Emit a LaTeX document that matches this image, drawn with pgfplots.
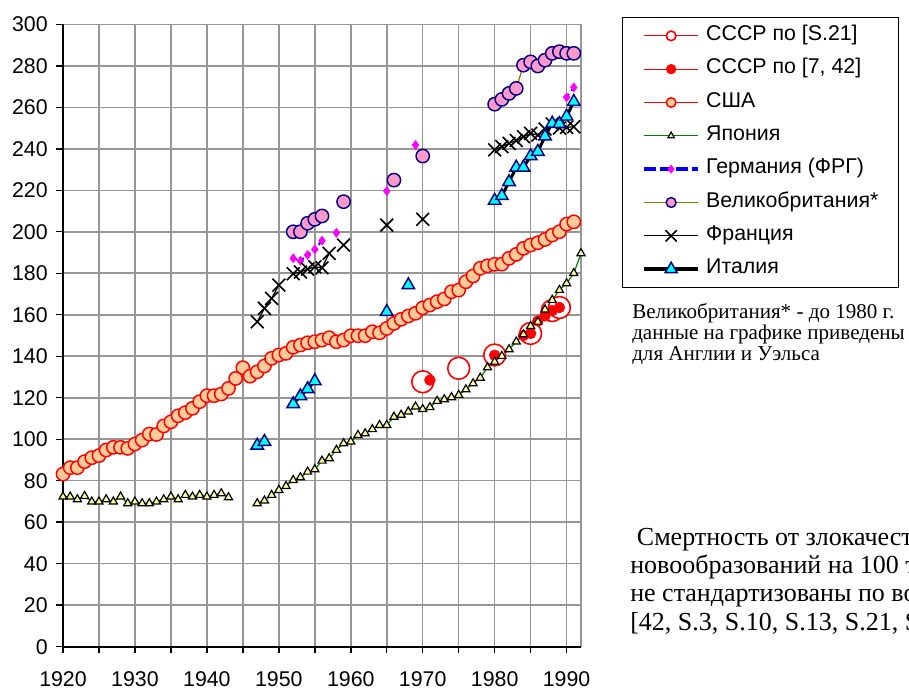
\documentclass[border=0pt]{standalone}
\usepackage{fontspec}
\setmainfont{Liberation Sans}
\newfontfamily\serifcyr{Liberation Serif}
\usepackage{pgfplots}
\pgfplotsset{compat=1.18}
\definecolor{gridgray}{RGB}{150,150,150}
\definecolor{usapeach}{RGB}{255,204,153}
\definecolor{japyellow}{RGB}{255,255,153}
\definecolor{japgreen}{RGB}{0,128,0}
\definecolor{ukpink}{RGB}{255,153,204}
\definecolor{ukolive}{RGB}{128,128,0}
\definecolor{navyb}{RGB}{0,0,128}
\definecolor{itcyan}{RGB}{0,255,255}
\definecolor{gemag}{RGB}{255,0,255}
\begin{document}
\begin{tikzpicture}
\begin{axis}[
  at={(47.25pt,32.475pt)}, anchor=south west,
  scale only axis, width=388.5pt, height=466.8pt,
  xmin=1920, xmax=1992, ymin=0, ymax=300,
  xtick={1920,1925,...,1990},
  xticklabels={1920,,1930,,1940,,1950,,1960,,1970,,1980,,1990},
  ytick={0,20,...,300},
  grid=major, major grid style={draw=gridgray, line width=1.15pt},
  axis line style={draw=gridgray, line width=1.15pt},
  tick align=outside, xtick pos=bottom, ytick pos=left,
  major tick length=5pt,
  tick style={black, line width=1.1pt},
  ticklabel style={font=\fontsize{16}{19}\selectfont},
  xticklabel style={yshift=-10pt},
  yticklabel style={xshift=-3pt},
  /pgf/number format/assume math mode=true,
  clip=false,
  unbounded coords=jump,
  legend cell align=left,
  legend style={at={(1.0792,1.0122)}, anchor=north west, draw=black, line width=1.1pt, fill=white,
    font=\fontsize{16}{19}\selectfont, inner xsep=15pt, inner ysep=6.8pt, row sep=11pt, column sep=5pt,
    nodes={inner sep=0pt, text height=10.5pt, text depth=3.5pt}},
  legend image code/.code={\draw[mark repeat=2,mark phase=2,#1] plot coordinates {(0pt,0pt) (20pt,0pt) (40pt,0pt)};},
]
\draw[black, line width=1.5pt] (rel axis cs:0,1) -- (rel axis cs:0,0) -- (rel axis cs:1,0);

% USSR [S.21]
\addplot[color=red, line width=0.9pt, mark=*, mark size=8.2pt,
  mark options={fill=white, draw=red, line width=1.2pt},
  legend image post style={mark size=3.6pt}]
  coordinates {(1970,127.7)(1971,nan)(1975,134.2)(1976,nan)(1980,140.6)(1981,nan)(1985,151)(1986,nan)(1988,162)(1989,163.5)};
\addlegendentry{СССР по [S.21]}
% USSR [7,42]
\addplot[color=red, line width=0.9pt, mark=*, mark size=4pt,
  mark options={fill=red, draw=red, line width=0.5pt},
  legend image post style={mark size=3.6pt}]
  coordinates {(1971,128.5)(1972,nan)(1980,140.5)(1981,nan)(1984,150)(1985,151)(1986,157)(1987,159.5)(1988,162)(1989,163.5)};
\addlegendentry{СССР по [7, 42]}
% USA
\addplot[color=red, line width=0.9pt, mark=*, mark size=5pt,
  mark options={fill=usapeach, draw=red, line width=1.1pt},
  legend image post style={mark size=3.6pt}]
  coordinates {
(1920,83.2)(1921,86.3)(1922,86.3)(1923,89.2)(1924,91.1)(1925,92.1)(1926,94.8)(1927,96.1)(1928,96.1)(1929,95.6)
(1930,97.7)(1931,99.6)(1932,102.5)(1933,102.3)(1934,106.4)(1935,108.4)(1936,111.3)(1937,112.8)(1938,114.9)(1939,118.1)
(1940,121.0)(1941,121.0)(1942,121.8)(1943,124.5)(1944,129.3)(1945,134.5)(1946,130.4)(1947,132.5)(1948,135.3)(1949,139.0)
(1950,140.6)(1951,141.4)(1952,144.3)(1953,145.4)(1954,146.5)(1955,147.0)(1956,147.8)(1957,148.9)(1958,147.0)(1959,147.8)
(1960,149.9)(1961,149.9)(1962,149.9)(1963,151.8)(1964,151.3)(1965,153.4)(1966,155.8)(1967,157.8)(1968,159.4)(1969,160.7)
(1970,163.3)(1971,164.7)(1972,166.3)(1973,167.6)(1974,171.1)(1975,171.9)(1976,175.9)(1977,178.7)(1978,182.4)(1979,183.6)
(1980,184.3)(1981,184.4)(1982,187.2)(1983,189.1)(1984,192.0)(1985,193.6)(1986,194.7)(1987,196.3)(1988,198.4)(1989,200.0)
(1990,203.7)(1991,204.8)};
\addlegendentry{США}
% Japan
\addplot[color=japgreen, line width=0.9pt, mark=triangle*, mark size=3.5pt,
  mark options={fill=japyellow, draw=black, line width=0.9pt},
  legend image post style={mark size=2.8pt}]
  coordinates {
(1920,72.3)(1921,72.3)(1922,71.0)(1923,72.6)(1924,69.9)(1925,69.9)(1926,71.0)(1927,69.9)(1928,72.3)(1929,69.1)
(1930,69.9)(1931,69.1)(1932,69.1)(1933,69.9)(1934,71.0)(1935,72.3)(1936,71.0)(1937,73.1)(1938,72.3)(1939,73.1)
(1940,72.3)(1941,73.1)(1942,73.9)(1943,72.0)(1944,nan)
(1947,69.1)(1948,70.4)(1949,73.1)(1950,75.5)(1951,77.4)(1952,80.3)(1953,81.6)(1954,84.3)(1955,85.5)(1956,89.6)
(1957,90.8)(1958,94.8)(1959,98.0)(1960,98.8)(1961,102.0)(1962,102.8)(1963,104.8)(1964,106.8)(1965,106.8)(1966,110.8)
(1967,111.7)(1968,113.3)(1969,115.7)(1970,114.5)(1971,115.4)(1972,118.4)(1973,119.2)(1974,120.2)(1975,121.3)(1976,124.0)
(1977,126.9)(1978,129.6)(1979,134.6)(1980,137.3)(1981,140.1)(1982,143.3)(1983,147.0)(1984,150.5)(1985,154.5)(1986,156.6)
(1987,162.5)(1988,167.1)(1989,171.9)(1990,175.1)(1991,180.0)(1992,189.6)};
\addlegendentry{Япония}
% Germany
\addplot[color=blue, dashed, line width=1.5pt, mark=diamond*, mark size=3.3pt,
  mark options={solid, fill=gemag, draw=gemag, line width=0.5pt},
  legend image post style={line width=2.6pt, dash pattern=on 9pt off 3pt, mark size=3pt}]
  coordinates {(1952,187.2)(1953,186.0)(1954,188.8)(1955,191.5)(1956,195.7)(1957,nan)(1958,199.5)(1959,nan)
  (1965,219.6)(1966,nan)(1969,241.8)(1970,nan)(1990,264.8)(1991,269.6)};
\addlegendentry{Германия (ФРГ)}
% UK
\addplot[color=ukolive, line width=0.9pt, mark=*, mark size=5pt,
  mark options={fill=ukpink, draw=navyb, line width=1.1pt},
  legend image post style={mark size=3.7pt}]
  coordinates {(1952,200.0)(1953,200.0)(1954,204.1)(1955,206.0)(1956,207.6)(1957,nan)(1959,214.5)(1960,nan)
  (1966,224.9)(1967,nan)(1970,236.5)(1971,nan)
  (1980,261.5)(1981,263.8)(1982,266.7)(1983,269.1)(1984,280.3)(1985,281.9)(1986,279.9)(1987,282.7)(1988,286.0)(1989,286.8)(1990,286.0)(1991,286.0)};
\addlegendentry{Великобритания*}
% France
\addplot[color=black, line width=0.9pt, mark=x, mark size=6.8pt,
  mark options={line width=1.2pt},
  legend image post style={mark size=6pt}]
  coordinates {(1947,156.6)(1948,163.1)(1949,167.9)(1950,174.3)(1951,nan)
  (1952,179.8)(1953,180.6)(1954,182.0)(1955,183.1)(1956,182.6)(1957,189.6)(1958,nan)(1959,193.6)(1960,nan)
  (1965,203.2)(1966,nan)(1970,206.0)(1971,nan)
  (1980,239.5)(1981,241.0)(1982,242.6)(1983,244.0)(1984,245.8)(1985,247.4)(1986,246.6)(1987,249.5)(1988,252.0)(1989,250.0)(1990,250.3)(1991,250.6)};
\addlegendentry{Франция}
% Italy
\addplot[color=black, line width=2.2pt, mark=triangle*, mark size=5.4pt,
  mark options={fill=itcyan, draw=navyb, line width=1.1pt},
  legend image post style={line width=2.6pt, mark size=5.2pt}]
  coordinates {(1947,97.0)(1948,98.8)(1949,nan)(1952,117.0)(1953,120.8)(1954,124.2)(1955,128.0)(1956,nan)
  (1965,161.4)(1966,nan)(1968,174.3)(1969,nan)
  (1980,215.0)(1981,217.3)(1982,224.0)(1983,231.0)(1984,231.0)(1985,236.5)(1986,238.6)(1987,246.0)(1988,252.2)(1989,252.0)(1990,255.6)(1991,262.7)};
\addlegendentry{Италия}
\end{axis}
\begin{scope}[every node/.style={anchor=base west, inner sep=0pt}]
\node[font=\serifcyr\fontsize{15.8}{16}\selectfont] at (474pt,278.8pt) {Великобритания* - до 1980 г.};
\node[font=\serifcyr\fontsize{15.8}{16}\selectfont] at (474pt,263.0pt) {данные на графике приведены};
\node[font=\serifcyr\fontsize{15.8}{16}\selectfont] at (474pt,247.3pt) {для Англии и Уэльса};
\node[font=\serifcyr\fontsize{19.5}{21}\selectfont] at (477.5pt,108.75pt) {Смертность от злокачественных};
\node[font=\serifcyr\fontsize{19.5}{21}\selectfont] at (472.5pt,87.5pt) {новообразований на 100 тыс. населения};
\node[font=\serifcyr\fontsize{19.5}{21}\selectfont] at (472.5pt,66.3pt) {не стандартизованы по возрасту};
\node[font=\serifcyr\fontsize{19.5}{21}\selectfont] at (472.5pt,45.0pt) {[42, S.3, S.10, S.13, S.21, S.22]};
\end{scope}
\pgfresetboundingbox
\path[use as bounding box] (0,0) rectangle (681.75pt,517.5pt);
\end{tikzpicture}
\end{document}
